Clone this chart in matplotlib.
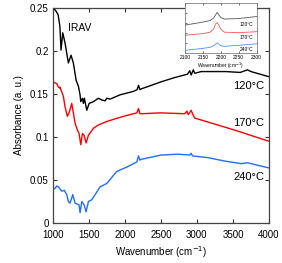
import matplotlib
matplotlib.use("Agg")
import matplotlib.pyplot as plt
import numpy as np

plt.rcParams['font.family'] = ['Liberation Sans', 'DejaVu Sans']

# main spectra (wavenumber, absorbance)
wn_120 = [1000, 1040, 1075, 1100, 1115, 1139, 1171, 1217, 1254, 1286, 1324, 1356, 1379, 1389,
          1412, 1425, 1439, 1472, 1505, 1564, 1634, 1680, 1727, 1750, 1796, 1935, 2120, 2170,
          2190, 2210, 2230, 2300, 2500, 2690, 2870, 2900, 2920, 2950, 2970, 3060, 3400, 3600,
          3700, 3750, 4000]
abs_120 = [0.250, 0.247, 0.242, 0.228, 0.201, 0.221, 0.209, 0.186, 0.195, 0.186, 0.166, 0.159,
           0.149, 0.141, 0.145, 0.139, 0.145, 0.131, 0.139, 0.141, 0.145, 0.143, 0.142, 0.145,
           0.144, 0.149, 0.153, 0.155, 0.160, 0.155, 0.156, 0.158, 0.164, 0.169, 0.173, 0.177,
           0.172, 0.178, 0.174, 0.176, 0.176, 0.175, 0.178, 0.176, 0.170]

wn_170 = [1000, 1055, 1078, 1092, 1100, 1148, 1171, 1203, 1231, 1264, 1286, 1310, 1342, 1365,
          1389, 1412, 1435, 1463, 1495, 1564, 1634, 1750, 1981, 2167, 2190, 2210, 2230, 2500,
          2830, 2860, 2880, 2920, 2950, 2970, 3523, 4000]
abs_170 = [0.164, 0.162, 0.158, 0.157, 0.158, 0.147, 0.135, 0.124, 0.129, 0.139, 0.128, 0.116,
           0.108, 0.104, 0.091, 0.104, 0.102, 0.093, 0.102, 0.110, 0.114, 0.118, 0.124, 0.128,
           0.133, 0.127, 0.127, 0.128, 0.127, 0.130, 0.126, 0.131, 0.125, 0.122, 0.108, 0.095]

wn_240 = [1000, 1030, 1055, 1080, 1125, 1160, 1194, 1217, 1240, 1278, 1310, 1340, 1365, 1379,
          1403, 1435, 1463, 1495, 1541, 1611, 1657, 1750, 1888, 2028, 2167, 2190, 2210, 2227,
          2504, 2735, 2900, 2920, 2940, 3152, 3384, 3616, 3700, 3750, 4000]
abs_240 = [0.040, 0.040, 0.043, 0.042, 0.037, 0.038, 0.033, 0.025, 0.023, 0.033, 0.023, 0.022,
           0.021, 0.012, 0.025, 0.021, 0.013, 0.025, 0.027, 0.036, 0.042, 0.046, 0.060, 0.065,
           0.071, 0.078, 0.073, 0.074, 0.079, 0.080, 0.079, 0.081, 0.078, 0.076, 0.072, 0.069,
           0.070, 0.069, 0.064]

# inset: zoom on the 2190 cm-1 band (offset, arbitrary units)
wn_in = [2100, 2150, 2170, 2180, 2185, 2190, 2195, 2200, 2210, 2250, 2300]
in_120 = [0.56, 0.62, 0.65, 0.70, 0.76, 0.81, 0.76, 0.71, 0.68, 0.69, 0.73]
in_170 = [0.36, 0.39, 0.42, 0.48, 0.58, 0.61, 0.55, 0.48, 0.42, 0.41, 0.43]
in_240 = [0.06, 0.10, 0.12, 0.15, 0.18, 0.21, 0.18, 0.15, 0.14, 0.16, 0.19]

fig = plt.figure(figsize=(2.82, 2.63), dpi=100)
ax = fig.add_axes([0.187, 0.152, 0.767, 0.818])

ax.plot(wn_120, abs_120, color='black', lw=1.0)
ax.plot(wn_170, abs_170, color='#ff0000', lw=1.0)
ax.plot(wn_240, abs_240, color='#1f6fff', lw=1.0)

ax.set_xlim(1000, 4000)
ax.set_ylim(0, 0.25)
ax.set_xticks([1000, 1500, 2000, 2500, 3000, 3500, 4000])
ax.set_yticks([0, 0.05, 0.1, 0.15, 0.2, 0.25])
ax.set_yticklabels(['0', '0.05', '0.1', '0.15', '0.2', '0.25'])
ax.tick_params(direction='in', top=True, right=True, labelsize=7, length=3, width=0.8,
               color='#333333')
ax.tick_params(axis='x', pad=5)
ax.tick_params(axis='y', pad=3)
for s in ax.spines.values():
    s.set_color('#444444')
    s.set_linewidth(0.9)
ax.set_xlabel('Wavenumber (cm$^{-1}$)', fontsize=7, labelpad=3)
ax.set_ylabel('Absorbance (a. u.)', fontsize=7, labelpad=4)

ax.text(1215, 0.227, 'IRAV', fontsize=7.5, va='center')
ax.text(3930, 0.159, '120\u00b0C', fontsize=8, ha='right', va='center')
ax.text(3930, 0.116, '170\u00b0C', fontsize=8, ha='right', va='center')
ax.text(3930, 0.054, '240\u00b0C', fontsize=8, ha='right', va='center')

# inset
ins = fig.add_axes([0.656, 0.797, 0.254, 0.192])
ins.plot(wn_in, in_120, color='#555555', lw=0.6)
ins.plot(wn_in, in_170, color='#ff5050', lw=0.6)
ins.plot(wn_in, in_240, color='#5090ff', lw=0.6)
ins.set_xlim(2100, 2300)
ins.set_ylim(0, 1)
ins.set_xticks([2100, 2150, 2200, 2250, 2300])
ins.set_yticks([0.2, 0.4, 0.6, 0.8])
ins.set_yticklabels([])
ins.tick_params(direction='in', top=True, labelsize=3.5, length=1.5, width=0.4, pad=1)
for s in ins.spines.values():
    s.set_color('#666666')
    s.set_linewidth(0.5)
ins.set_xlabel('Wavenumber (cm$^{-1}$)', fontsize=3.5, labelpad=1)
ins.text(2290, 0.58, '120\u00b0C', fontsize=3.5, ha='right', va='center')
ins.text(2290, 0.32, '170\u00b0C', fontsize=3.5, ha='right', va='center')
ins.text(2290, 0.08, '240\u00b0C', fontsize=3.5, ha='right', va='center')

fig.savefig('out.png', dpi=100)
